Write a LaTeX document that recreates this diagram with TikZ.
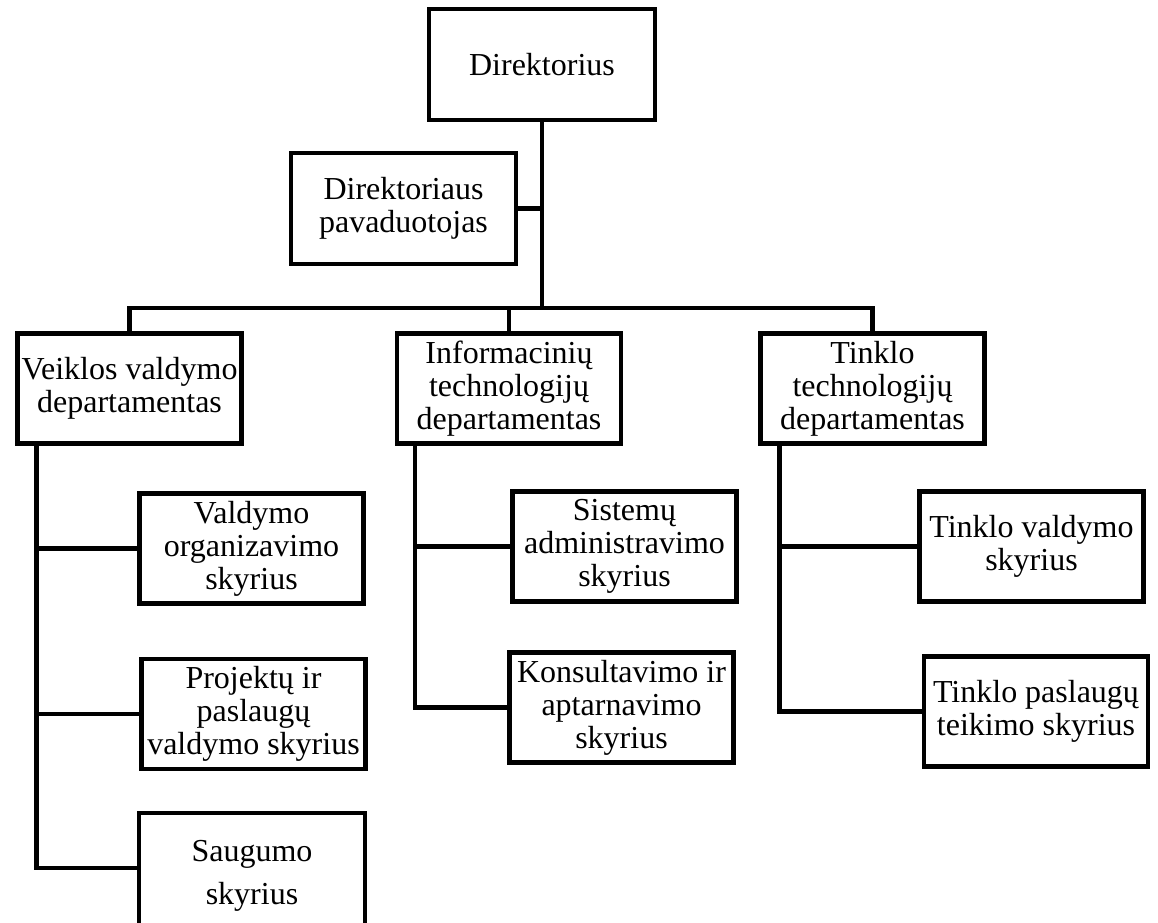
\documentclass[tikz,border=0pt]{standalone}
\usepackage{fontspec}
\setmainfont{Liberation Serif}
\begin{document}
\begin{tikzpicture}[x=1pt,y=-1pt,
  box/.style={draw,line width=4.5pt,align=center,inner sep=0pt,
    minimum width=224pt,minimum height=110pt,
    font=\fontsize{32}{33}\selectfont},
  conn/.style={line width=4.5pt}]
\clip (0,0) rectangle (1158,922);
\fill[white] (0,0) rectangle (1158,922);
% nodes
\node[box,minimum width=226pt,minimum height=111pt] (dir) at (542,64.5) {Direktorius};
\node[box,minimum width=225pt,minimum height=111pt] (pav) at (403.5,208.5) {Direktoriaus\\pavaduotojas};
\node[box] (vei) at (129.5,388.5) {Veiklos valdymo\\departamentas};
\node[box] (inf) at (509,388.5) {Informacinių\\technologijų\\departamentas};
\node[box] (tin) at (872.5,388.5) {Tinklo\\technologijų\\departamentas};
\node[box] (c1) at (251.5,548.5) {Valdymo\\organizavimo\\skyrius};
\node[box] (c2) at (253.5,714) {Projektų ir\\paslaugų\\valdymo skyrius};
\node[box,minimum width=226pt,minimum height=126pt] (c3) at (252,876) {Saugumo\\[10pt]skyrius};
\node[box] (s1) at (624.5,546.5) {Sistemų\\administravimo\\skyrius};
\node[box] (s2) at (621.5,707.5) {Konsultavimo ir\\aptarnavimo\\skyrius};
\node[box] (t1) at (1031.5,546.5) {Tinklo valdymo\\skyrius};
\node[box] (t2) at (1036,711.5) {Tinklo paslaugų\\teikimo skyrius};
% helper coordinates
\coordinate (bus) at (542,308);
\coordinate (vx) at ([xshift=21pt]vei.south west);
\coordinate (ix) at ([xshift=20pt]inf.south west);
\coordinate (tx) at ([xshift=21pt]tin.south west);
\coordinate (c3in) at ([yshift=8pt]c3.west);
% connectors
\draw[conn] (dir.south) -- (bus);
\draw[conn] (pav.east) -- (pav.east -| dir.south);
\draw[conn] (vei.north) |- (bus) -| (tin.north);
\draw[conn] (inf.north) -- (inf.north |- bus);
\draw[conn] (vx) |- (c3in);
\draw[conn] (vx |- c1.west) -- (c1.west);
\draw[conn] (vx |- c2.west) -- (c2.west);
\draw[conn] (ix) |- (s2.west);
\draw[conn] (ix |- s1.west) -- (s1.west);
\draw[conn] (tx) |- (t2.west);
\draw[conn] (tx |- t1.west) -- (t1.west);
\end{tikzpicture}
\end{document}
